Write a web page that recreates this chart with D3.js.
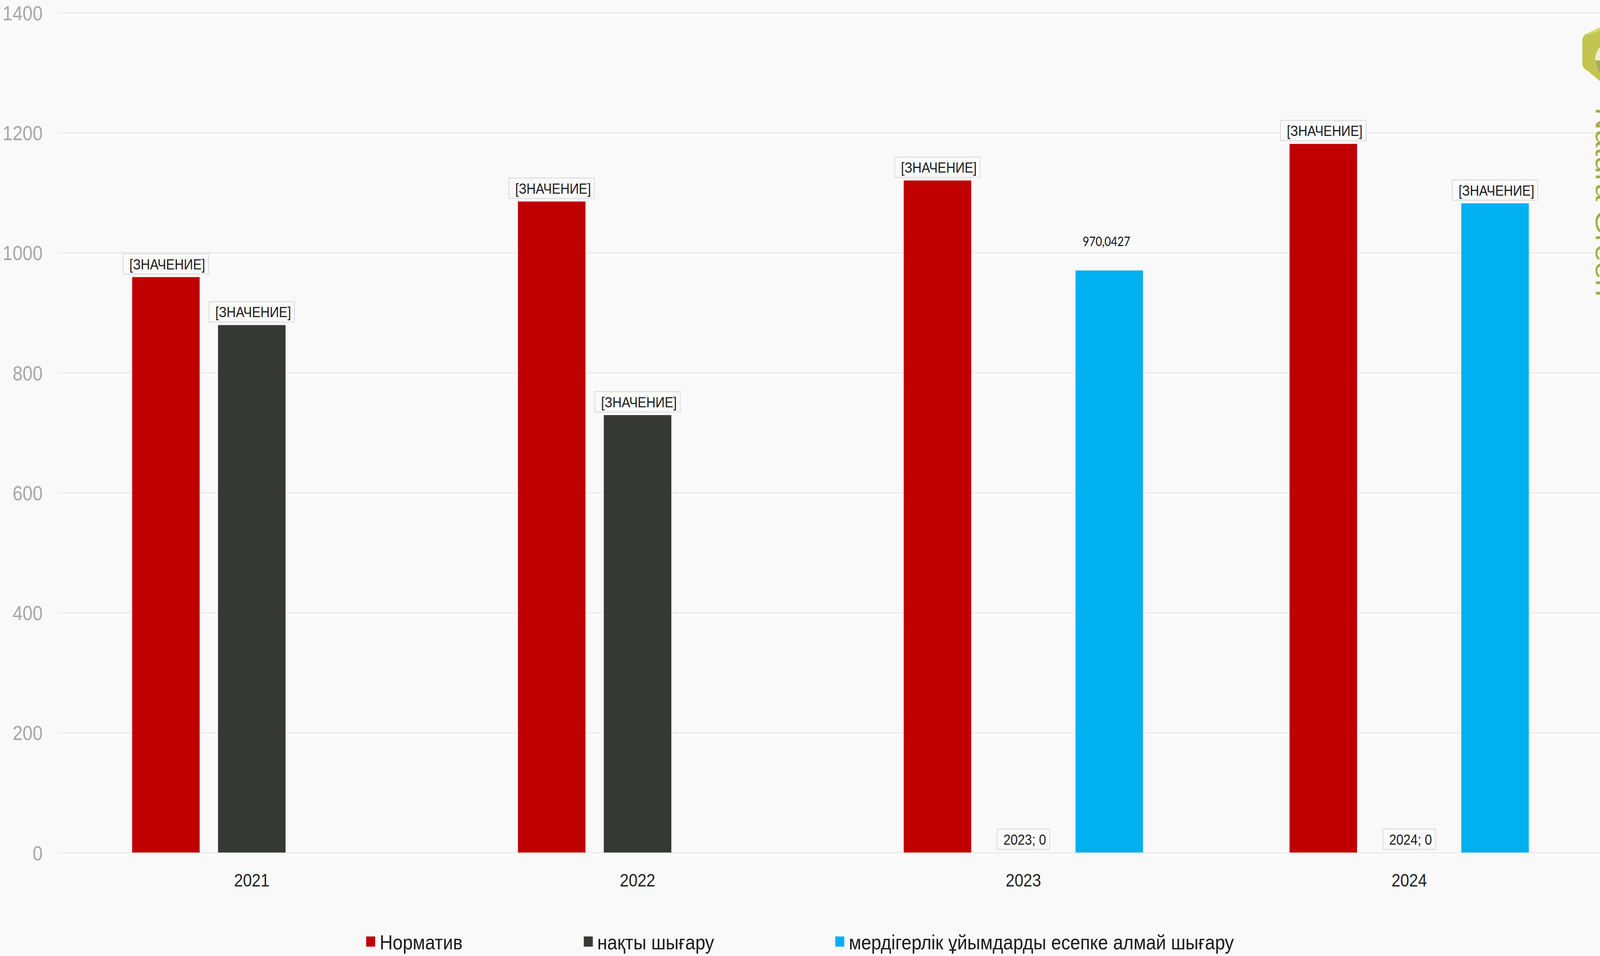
<!DOCTYPE html>
<html>
<head>
<meta charset="utf-8">
<style>
  html, body { margin: 0; padding: 0; background: #f9f9f9; overflow: hidden; }
  svg { display: block; width: 100vw; height: 100vh; font-family: "Liberation Sans", Arial, sans-serif; }
</style>
</head>
<body>
<script src="https://cdn.jsdelivr.net/npm/d3@7"></script>
<script>
// data
const years = ["2021", "2022", "2023", "2024"]
const seriesNames = ["Норматив", "нақты шығару", "мердігерлік ұйымдарды есепке алмай шығару"]
const normativ = [959, 1085, 1120, 1181]
const naqty = [879, 729, 0, 0]
const merdiger = [null, null, 970.0427, 1082]
const normLabels = ["[ЗНАЧЕНИЕ]", "[ЗНАЧЕНИЕ]", "[ЗНАЧЕНИЕ]", "[ЗНАЧЕНИЕ]"]
const naqtyLabels = ["[ЗНАЧЕНИЕ]", "[ЗНАЧЕНИЕ]", "2023; 0", "2024; 0"]
const merdigerLabels = [null, null, "970,0427", "[ЗНАЧЕНИЕ]"]
const yTicks = [0, 200, 400, 600, 800, 1000, 1200, 1400]
const colors = ["#c00000", "#363834", "#00b0f0"]

const w = 4620
const h = 2448
const padL = 170, padR = 4626, plotTop = 32, plotBottom = 2183

const series = [normativ, naqty, merdiger]
const labels = [normLabels, naqtyLabels, merdigerLabels]

const rows = []
years.forEach((yr, i) => {
    series.forEach((s, k) => {
        if (s[i] === null) return
        rows.push({year: yr, k: k, value: s[i], label: labels[k][i]})
    })
})

// drawn in a fixed 4620x2448 coordinate space, stretched to the window
const svg = d3.select("body").append("svg")
    .attr("viewBox", "0 0 " + w + " " + h)
    .attr("preserveAspectRatio", "none")
svg.append("rect").attr("width", w).attr("height", h).attr("fill", "#f9f9f9")

const x0 = d3.scaleBand().domain(years).range([padL, padR])
const x1 = d3.scaleBand().domain([0, 1, 2]).range([0, x0.bandwidth()])
    .paddingInner(0.2137).paddingOuter(0.853)
const y = d3.scaleLinear().domain([0, 1400]).range([plotBottom, plotTop])

// gridlines + y labels
svg.append("g").attr("transform", "translate(" + padL + ",0)")
    .call(d3.axisLeft(y).tickValues(yTicks).tickFormat(d3.format("d")).tickSize(-(w - padL)).tickPadding(47))
    .call(g => g.select(".domain").remove())
    .call(g => g.selectAll("line").attr("stroke", "#e8e8e8").attr("stroke-width", 2.5))
    .call(g => g.selectAll("text").attr("fill", "#a6a6a6").attr("font-size", 52)
        .attr("font-family", "Liberation Sans, Arial, sans-serif").attr("dy", "0.37em"))

// x labels
svg.append("g").attr("transform", "translate(0," + plotBottom + ")")
    .call(d3.axisBottom(x0).tickSize(0).tickPadding(54))
    .call(g => g.select(".domain").remove())
    .call(g => g.selectAll("text").attr("fill", "#222").attr("font-size", 46)
        .attr("font-family", "Liberation Sans, Arial, sans-serif"))

// bars
svg.append("g").selectAll("rect").data(rows).enter().append("rect")
    .attr("x", d => x0(d.year) + x1(d.k))
    .attr("y", d => y(d.value))
    .attr("width", x1.bandwidth())
    .attr("height", d => y(0) - y(d.value))
    .attr("fill", d => colors[d.k])

// data labels
const lab = svg.append("g")
rows.forEach(d => {
    const cx = x0(d.year) + x1(d.k) + x1.bandwidth() / 2
    const ty = y(d.value)
    if (/^[\d,]+$/.test(d.label)) {
        lab.append("text").attr("x", cx - 8).attr("y", ty - 63)
            .attr("text-anchor", "middle").attr("font-family", "Lato, 'Open Sans', sans-serif")
            .attr("font-size", 32).attr("fill", "#111").text(d.label)
        return
    }
    const g = lab.append("g")
    const box = g.append("rect")
    const t = g.append("text").attr("x", cx + 4).attr("y", ty - 8 - 52 + 40)
        .attr("text-anchor", "middle").attr("font-size", 37).attr("fill", "#1a1a1a").text(d.label)
    const tw = t.node().getComputedTextLength()
    box.attr("x", cx - tw / 2 - 14).attr("y", ty - 8 - 52)
        .attr("width", tw + 28).attr("height", 52)
        .attr("fill", "#fafafa").attr("stroke", "#dcdcdc").attr("stroke-width", 2.5)
})

// legend
const leg = svg.append("g")
let lx = 0
seriesNames.forEach((name, k) => {
    const g = leg.append("g").attr("transform", "translate(" + lx + ",0)")
    g.append("rect").attr("x", 0).attr("y", 2398).attr("width", 26).attr("height", 26).attr("fill", colors[k])
    const t = g.append("text").attr("x", 39).attr("y", 2431).attr("font-size", 52)
        .attr("fill", "#1a1a1a").text(name)
    lx += 39 + t.node().getComputedTextLength() + 350
})
const legW = lx - 350
leg.attr("transform", "translate(" + (w / 2 - legW / 2) + ",0)")

// logo fragment on the right edge
const logo = svg.append("g")
logo.append("path")
    .attr("d", "M4620,70 L4584,85 Q4569,91 4569,104 L4569,162 Q4569,175 4584,181 L4620,208 Z")
    .attr("fill", "#c2c550")
logo.append("path")
    .attr("d", "M4578,88 L4620,71 L4620,78 L4590,88 Z")
    .attr("fill", "#d6dc6c")
logo.append("circle").attr("cx", 4652).attr("cy", 153).attr("r", 46).attr("fill", "#ebedcf")
logo.append("path")
    .attr("d", "M4606,155 L4652,153 L4640,198 Q4612,190 4606,155 Z")
    .attr("fill", "#a9ae57")
svg.append("text")
    .attr("transform", "translate(4608,275) rotate(90)")
    .attr("font-size", 80).attr("fill", "#a6ab44")
    .text("Natura Green")
</script>
</body>
</html>
